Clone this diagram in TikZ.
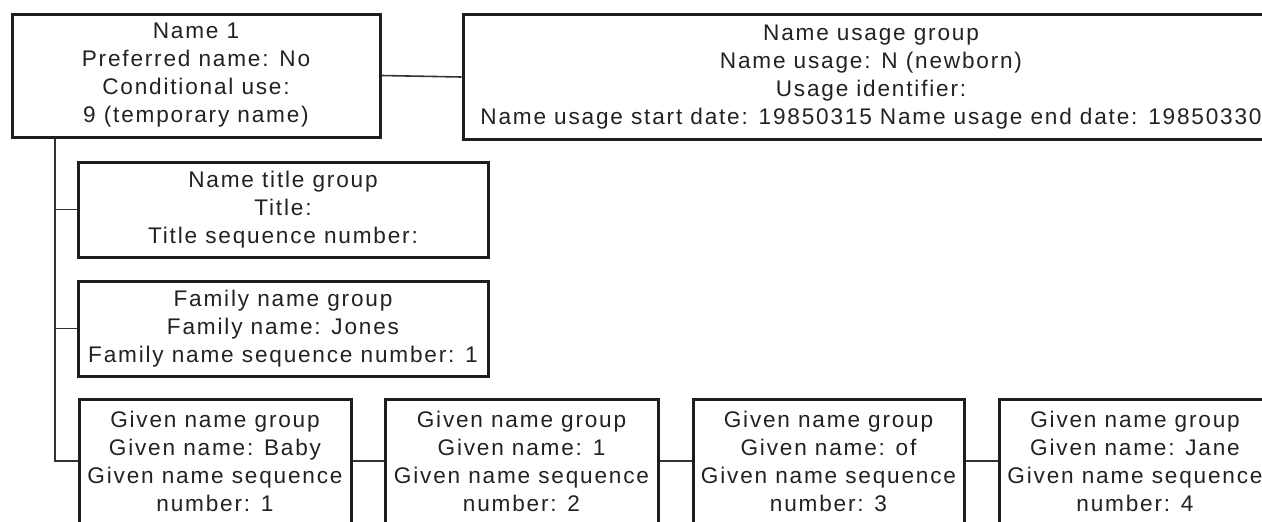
\documentclass[tikz,border=0pt]{standalone}
\usepackage{fontspec}
\setmainfont{Liberation Sans}[LetterSpace=8]
\definecolor{boxc}{HTML}{1E1E1E}
\definecolor{txtc}{HTML}{222222}
\definecolor{linec}{HTML}{333333}
\begin{document}
\begin{tikzpicture}[x=0.5pt,y=-0.5pt,
  recbox/.style={draw=boxc, line width=1.5pt, align=center, inner sep=0pt,
    text=txtc, font=\fontsize{11.3}{14}\selectfont},
  link/.style={draw=linec, line width=0.8pt}]
\useasboundingbox (0,0) rectangle (1262,521);
\clip (0,0) rectangle (1262,521);
\fill[white] (0,0) rectangle (1262,521);

\node[recbox, minimum width=368*0.5pt, minimum height=123*0.5pt] (name1) at (196,75.5)
  {Name 1\\Preferred name: No\\Conditional use:\\9 (temporary name)};
\node[recbox, minimum width=816*0.5pt, minimum height=125*0.5pt] (usage) at (871,77)
  {Name usage group\\Name usage: N (newborn)\\Usage identifier:\\Name usage start date: 19850315 Name usage end date: 19850330};
\node[recbox, minimum width=410*0.5pt, minimum height=95*0.5pt] (title) at (283,209.5)
  {Name title group\\Title:\\Title sequence number:};
\node[recbox, minimum width=410*0.5pt, minimum height=95*0.5pt] (family) at (283,328.5)
  {Family name group\\Family name: Jones\\Family name sequence number: 1};
\node[recbox, minimum width=272*0.5pt, minimum height=124*0.5pt] (given1) at (215,461)
  {Given name group\\Given name: Baby\\Given name sequence\\number: 1};
\node[recbox, minimum width=273*0.5pt, minimum height=124*0.5pt] (given2) at (521.5,461)
  {Given name group\\Given name: 1\\Given name sequence\\number: 2};
\node[recbox, minimum width=271*0.5pt, minimum height=124*0.5pt] (given3) at (828.5,461)
  {Given name group\\Given name: of\\Given name sequence\\number: 3};
\node[recbox, minimum width=272*0.5pt, minimum height=124*0.5pt] (given4) at (1135,461)
  {Given name group\\Given name: Jane\\Given name sequence\\number: 4};

\coordinate (spx) at (55,0);
\draw[link] (name1.east) -- (usage.west);
\draw[link] (name1.south -| spx) |- (given1.west);
\draw[link] (title.west -| spx) -- (title.west);
\draw[link] (family.west -| spx) -- (family.west);
\draw[link] (given1.east) -- (given2.west);
\draw[link] (given2.east) -- (given3.west);
\draw[link] (given3.east) -- (given4.west);
\end{tikzpicture}
\end{document}
